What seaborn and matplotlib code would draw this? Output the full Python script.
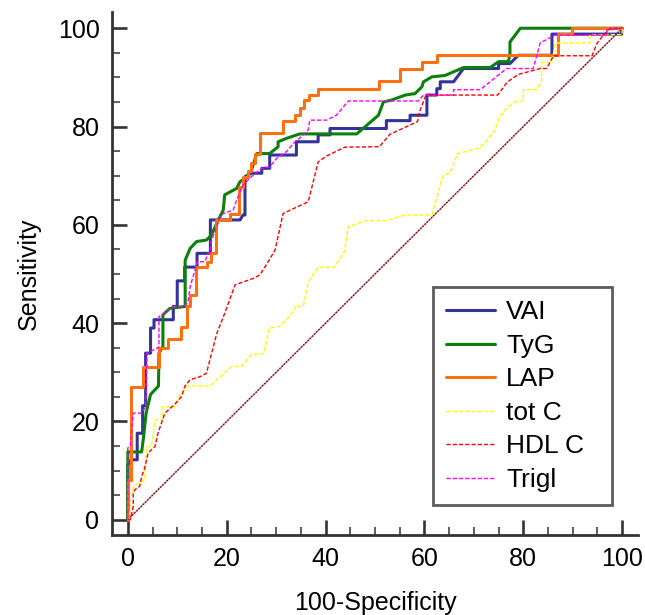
import numpy as np
import matplotlib
matplotlib.use("Agg")
import matplotlib.pyplot as plt
import seaborn as sns

# ROC curve vertices (100-specificity, sensitivity)
vai_x = [0, 0, 0.7, 1.9, 1.9, 3.0, 3.0, 3.6, 3.6, 4.6, 4.6, 5.3, 5.3, 9.2, 9.2, 10.0, 10.0, 11.5, 11.5,
         14.0, 14.0, 16.7, 16.7, 22.7, 23.3, 23.7, 23.7, 25.0, 27.1, 27.1, 28.7, 28.7, 34.1, 34.1, 38.5,
         38.5, 40.9, 40.9, 52.3, 52.3, 57.1, 57.1, 60.5, 60.5, 62.5, 62.5, 63.2, 63.2, 65.9, 67.9, 75.0,
         75.0, 77.3, 79.0, 85.8, 85.8, 99.9, 99.9, 100]
vai_y = [0, 11.2, 12.2, 12.2, 17.6, 17.6, 23.2, 23.2, 33.9, 33.9, 39.0, 39.0, 40.7, 40.7, 43.4, 43.4,
         48.6, 48.6, 51.4, 51.4, 54.2, 54.2, 61.0, 61.0, 62.0, 62.0, 69.8, 70.5, 70.5, 71.5, 71.5, 74.2,
         74.2, 76.9, 76.9, 78.3, 78.3, 79.6, 79.6, 81.2, 81.2, 82.3, 82.3, 86.4, 86.4, 87.7, 87.7, 89.1,
         89.1, 91.8, 91.8, 92.8, 92.8, 94.5, 94.5, 98.8, 98.8, 100, 100]

tyg_x = [0, 0, 2.8, 3.2, 3.7, 4.6, 6.2, 6.3, 7.1, 7.1, 8.5, 11.6, 11.6, 12.6, 13.9, 15.9, 16.9, 18.3,
         19.3, 19.6, 22.0, 22.7, 23.7, 25.0, 26.1, 28.7, 30.4, 30.4, 32.1, 34.8, 46.3, 50.7, 51.7, 53.4,
         56.1, 58.1, 59.5, 59.8, 61.5, 64.2, 67.9, 73.3, 75.0, 77.0, 77.3, 77.3, 79.4, 100]
tyg_y = [0, 13.8, 13.8, 17.0, 21.7, 25.5, 27.2, 33.9, 35.2, 41.7, 43.0, 43.4, 52.8, 55.2, 56.6, 56.9,
         57.9, 61.0, 63.0, 66.1, 67.4, 68.8, 69.4, 71.1, 74.5, 74.5, 75.9, 76.9, 77.6, 78.5, 78.5, 82.3,
         85.0, 85.4, 86.4, 86.7, 88.1, 89.1, 90.1, 90.4, 92.0, 92.0, 93.2, 93.2, 94.9, 97.2, 100, 100]

lap_x = [0, 0, 0.6, 0.6, 3.0, 3.0, 6.3, 6.3, 8.2, 8.2, 10.7, 10.7, 11.9, 11.9, 12.6, 12.6, 13.8, 13.8,
         16.1, 16.1, 16.9, 16.9, 17.9, 17.9, 20.6, 20.6, 22.5, 22.5, 23.3, 23.3, 24.4, 24.4, 25.0, 25.0,
         25.7, 25.7, 26.7, 26.7, 31.4, 31.4, 33.8, 33.8, 34.8, 34.8, 35.6, 35.6, 36.7, 36.7, 38.5, 38.5,
         50.8, 50.8, 55.1, 55.1, 59.5, 59.5, 62.5, 62.5, 87.1, 87.1, 89.8, 89.8, 100]
lap_y = [0, 8, 8, 27, 27, 31, 31, 35, 35, 36.7, 36.7, 39.2, 39.2, 43.4, 43.4, 45.7, 45.7, 51.4, 51.4,
         52.5, 52.5, 54.2, 54.2, 61.0, 61.0, 62.3, 62.3, 67.7, 67.7, 69.8, 69.8, 71.0, 71.0, 72.5, 72.5,
         74.5, 74.5, 78.6, 78.6, 81.2, 81.2, 82.3, 82.3, 83.7, 83.7, 85.4, 85.4, 86.4, 86.4, 87.7, 87.7,
         89.2, 89.2, 91.8, 91.8, 93.2, 93.2, 94.5, 94.5, 98.8, 98.8, 100, 100]

totc_x = [0, 0.3, 0.7, 1.1, 2.2, 3.4, 3.8, 4.8, 5.5, 7.1, 7.1, 9.5, 10.5, 12.4, 16.6, 18.6, 21.0, 23.0,
          25.0, 27.5, 28.6, 30.6, 32.1, 33.8, 33.8, 35.5, 36.5, 38.5, 41.8, 43.8, 44.6, 48.0, 52.5, 56.2,
          61.5, 63.8, 65.2, 66.7, 71.1, 72.5, 74.3, 75.1, 76.6, 78.3, 80.0, 80.0, 82.7, 83.7, 83.7, 85.8,
          86.5, 93.5, 93.5, 100, 100]
totc_y = [0, 0, 4.1, 6.8, 7.4, 8.1, 14.9, 14.9, 20.3, 20.3, 23.0, 23.0, 25.4, 27.2, 27.2, 29.0, 31.2,
          31.2, 33.6, 33.8, 39.0, 39.3, 40.7, 42.8, 43.4, 43.4, 48.4, 51.4, 51.4, 54.5, 59.6, 60.8, 60.9,
          62.0, 62.0, 70.1, 70.5, 74.5, 75.6, 77.0, 79.3, 81.8, 83.7, 85.0, 85.2, 87.5, 87.5, 89.1, 93.0,
          93.2, 97.0, 97.0, 98.7, 98.7, 100]

hdlc_x = [0, 0.5, 1.1, 1.1, 1.4, 2.4, 2.8, 3.4, 4.1, 5.5, 6.1, 7.5, 9.5, 10.9, 11.5, 12.6, 14.6, 15.9,
          16.6, 18.0, 19.6, 21.7, 25.4, 26.7, 28.4, 29.8, 31.4, 36.5, 38.5, 40.2, 43.9, 50.9, 53.0, 58.6,
          59.0, 60.3, 74.8, 76.8, 79.0, 83.4, 84.7, 86.1, 93.9, 94.9, 96.2, 97.6, 100]
hdlc_y = [0, 0, 2.7, 5.4, 6.1, 6.8, 8.8, 10.5, 13.6, 14.9, 17.6, 21.7, 23.5, 25.1, 27.1, 28.5, 29.1,
          29.8, 32.5, 37.9, 42.0, 47.8, 49.1, 49.8, 52.5, 54.9, 62.3, 64.7, 72.8, 74.0, 75.8, 75.9, 78.4,
          81.0, 83.0, 86.4, 86.4, 89.1, 90.6, 91.8, 91.8, 94.4, 94.4, 96.9, 98.6, 100, 100]

trigl_x = [0, 0, 0.5, 1.1, 2.8, 3.6, 3.9, 6.3, 6.3, 8.2, 9.2, 11.5, 12.2, 12.6, 13.8, 14.0, 15.6, 16.2,
           16.6, 16.9, 17.6, 18.8, 19.3, 21.3, 22.0, 23.3, 25.0, 27.1, 28.7, 30.1, 32.1, 33.8, 35.5, 36.5,
           36.8, 40.2, 42.2, 44.6, 58.8, 59.8, 65.9, 65.9, 71.3, 76.6, 82.0, 82.7, 83.4, 86.4, 96.9, 96.9,
           100]
trigl_y = [0, 14.6, 15.0, 21.7, 21.7, 23.0, 33.9, 35.1, 41.3, 42.7, 43.4, 43.4, 44.6, 47.4, 51.5, 52.5,
           52.5, 54.2, 54.2, 56.6, 58.6, 61.8, 62.3, 63.0, 65.0, 68.1, 69.8, 71.5, 71.8, 73.5, 74.9, 76.9,
           78.3, 79.3, 81.3, 81.3, 82.3, 85.2, 85.2, 86.4, 86.4, 87.5, 87.5, 91.8, 91.8, 94.3, 97.0, 98.6,
           98.6, 99.6, 100]

diag = [0, 100]
ticks = [0, 20, 40, 60, 80, 100]

sns.set_style("ticks")
plt.rcParams['font.family'] = ['Liberation Sans', 'DejaVu Sans']

fig = plt.figure(figsize=(6.45, 6.15), dpi=100)
ax = fig.add_axes([112 / 645, 1 - 535 / 615, 526 / 645, 523 / 615])

# chance line: dark red dots over a pale line
sns.lineplot(x=diag, y=diag, ax=ax, color='#c89090', lw=1.0, sort=False, estimator=None)
sns.lineplot(x=diag, y=diag, ax=ax, color='#800000', lw=1.0, linestyle=(0, (1, 1.2)), sort=False,
             estimator=None)

sns.lineplot(x=vai_x, y=vai_y, ax=ax, color='#333399', lw=2.2, label='VAI', sort=False, estimator=None)
sns.lineplot(x=tyg_x, y=tyg_y, ax=ax, color='#0a800a', lw=2.2, label='TyG', sort=False, estimator=None)
sns.lineplot(x=lap_x, y=lap_y, ax=ax, color='#ff7010', lw=2.2, label='LAP', sort=False, estimator=None)
sns.lineplot(x=totc_x, y=totc_y, ax=ax, color='#ffff00', lw=1.0, linestyle=(0, (3, 1.5)), label='tot C',
             sort=False, estimator=None)
sns.lineplot(x=hdlc_x, y=hdlc_y, ax=ax, color='#ff0000', lw=1.0, linestyle=(0, (3, 1.5)), label='HDL C',
             sort=False, estimator=None)
sns.lineplot(x=trigl_x, y=trigl_y, ax=ax, color='#ff00ff', lw=1.0, linestyle=(0, (3, 1.5)), label='Trigl',
             sort=False, estimator=None)

ax.set_xlim(-3.2, 103.2)
ax.set_ylim(-3.1, 103.3)
ax.set_xticks(ticks)
ax.set_yticks(ticks)
ax.set_xticks(np.arange(0, 101, 5), minor=True)
ax.set_yticks(np.arange(0, 101, 5), minor=True)
ax.tick_params(which='major', direction='in', length=10.8, width=1.9, colors='#333333',
               labelcolor='black', labelsize=18, pad=9)
ax.tick_params(which='minor', direction='in', length=6, width=1.1, colors='#333333')
for side in ['top', 'right']:
    ax.spines[side].set_visible(False)
for side in ['left', 'bottom']:
    ax.spines[side].set_linewidth(2.0)
    ax.spines[side].set_color('#333333')

ax.set_xlabel('100-Specificity', fontsize=18, labelpad=14, color='black')
ax.set_ylabel('Sensitivity', fontsize=18, labelpad=12, color='black')

# legend box spans px 433..612 horizontally, top at px 287
leg = ax.legend(loc='upper left', bbox_to_anchor=(0.61, 0.067, 0.341, 0.407), mode='expand',
                borderaxespad=0, fontsize=19, frameon=True, fancybox=False, edgecolor='#333333',
                handlelength=1.85, handletextpad=0.42, labelspacing=0.36, borderpad=0.5)
leg.get_frame().set_linewidth(2.0)
for t in leg.get_texts():
    t.set_color('black')

fig.savefig('out.png', dpi=100)
